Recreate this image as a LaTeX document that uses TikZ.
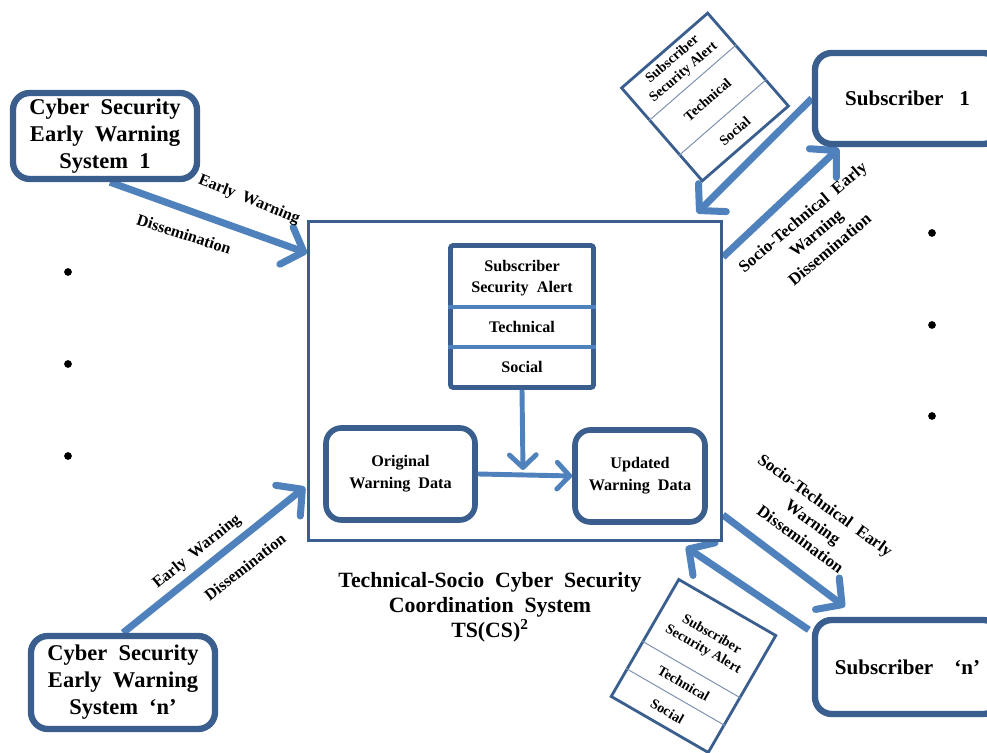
\documentclass[tikz,border=0pt]{standalone}
\usepackage{fontspec}
\setmainfont{Liberation Serif}
\usetikzlibrary{arrows.meta,calc,backgrounds}
\definecolor{frameblue}{RGB}{58,95,143}
\definecolor{flowblue}{RGB}{79,129,189}
\definecolor{ruleblue}{RGB}{125,145,175}
\begin{document}
\begin{tikzpicture}[x=0.025cm,y=0.025cm,
  roundbox/.style={draw=frameblue, line width=4.5pt, rounded corners=12pt, fill=white,
    align=center, inner sep=0pt, font=\bfseries\fontsize{16}{19.2}\selectfont},
  databox/.style={draw=frameblue, line width=4pt, rounded corners=11pt, fill=white,
    align=center, inner sep=0pt, font=\bfseries\fontsize{11.5}{15.5}\selectfont},
  bigflow/.style={draw=flowblue, line width=5pt, -{Straight Barb[length=13pt,width=28pt,round]}},
  innerflow/.style={draw=flowblue, line width=3.5pt, -{Straight Barb[length=9pt,width=19pt,round]}},
  lbl/.style={font=\bfseries\fontsize{11.5}{14}\selectfont, inner sep=0pt, align=center},
  tiltbox/.style={draw=frameblue, line width=2pt, fill=white, inner sep=0pt},
  tilttext/.style={font=\bfseries\fontsize{10}{12}\selectfont, align=center, inner sep=0pt},
  cell/.style={font=\bfseries\fontsize{11.5}{15}\selectfont, align=center, inner sep=0pt},
  dotmark/.style={circle, fill=black, inner sep=0pt, minimum size=5.5pt}]
\useasboundingbox (0,0) rectangle (987,753);

% central coordination system
\node[draw=frameblue, line width=2pt, minimum width=10.325cm, minimum height=7.975cm] (ts) at (515,372) {};

% alert record stack inside the coordination system
\node[draw=frameblue, line width=3.5pt, rounded corners=2pt, minimum width=3.575cm, minimum height=3.55cm] (stack) at (522,436.5) {};
\draw[flowblue, line width=3.5pt] ($(stack.north west)+(0,-64)$) -- ($(stack.north east)+(0,-64)$);
\draw[flowblue, line width=3.5pt] ($(stack.north west)+(0,-104)$) -- ($(stack.north east)+(0,-104)$);
\node[cell] (st1) at ($(stack.north)+(0,-35)$) {Subscriber\\Security\ \ Alert};
\node[cell] (st2) at ($(stack.north)+(0,-83.5)$) {Technical};
\node[cell] (st3) at ($(stack.north)+(0,-123.5)$) {Social};

\node[databox, minimum width=3.725cm, minimum height=2.3cm] (orig) at (400.5,279) {Original\\Warning\ \ Data};
\node[databox, minimum width=3.25cm, minimum height=2.3cm] (upd) at (640,277) {Updated\\Warning\ \ Data};
\coordinate (merge) at (523,283);
\draw[innerflow] (stack.south) -- (merge);
\draw[innerflow] (orig.east) -- (upd.west);

% title of the coordination system
\node[font=\bfseries\fontsize{15.5}{17.8}\selectfont, align=center] (title) at (490,146)
  {Technical-Socio\ \ Cyber\ \ Security\\Coordination\ \ System\\TS(CS)\textsuperscript{2}};

% warning systems and subscribers
\node[roundbox, minimum width=4.6cm, minimum height=2.15cm] (ews1) at (105,617) {Cyber\ \ Security\\Early\ \ Warning\\System\ \ 1};
\node[roundbox, minimum width=4.6cm, minimum height=2.325cm] (ewsn) at (123,70.5) {Cyber\ \ Security\\Early\ \ Warning\\System\ \ ‘n’};
\node[roundbox, font=\bfseries\fontsize{15}{18}\selectfont, minimum width=4.625cm, minimum height=2.275cm] (sub1) at (907.5,654.5) {Subscriber\ \ \ 1};
\node[roundbox, font=\bfseries\fontsize{15}{18}\selectfont, minimum width=4.625cm, minimum height=2.35cm] (subn) at (907.5,86) {Subscriber\ \ \ \ ‘n’};

% dissemination arrows
\begin{scope}[on background layer]
\draw[bigflow] ($(ews1.south)+(5,0)$) -- ($(ts.north west)+(0,-33)$);
\draw[bigflow] (ewsn.north) -- ($(ts.north west)+(-2,-267)$);
\draw[bigflow] (sub1.west) -- ($(ts.north east)+(-26,7)$);
\draw[bigflow] ($(ts.north east)+(0,-37)$) -- ($(sub1.south west)+(27,-1)$);
\draw[bigflow] ($(ts.south east)+(0,27)$) -- ($(subn.north west)+(33,10)$);
\draw[bigflow] ($(subn.north west)+(-3,-13)$) -- ($(ts.south east)+(-37,-5)$);
\end{scope}

% arrow labels
\node[lbl, rotate=-22] (l1a) at (249,553) {Early\ \ Warning};
\node[lbl, rotate=-18] (l1b) at (184,519) {Dissemination};
\node[lbl, rotate=39] (l2a) at (197,201) {Early\ \ Warning};
\node[lbl, rotate=38] (l2b) at (245,186) {Dissemination};
\node[lbl, rotate=40, font=\bfseries\fontsize{12}{15}\selectfont] (l3) at (816,520) {Socio-Technical\ \ Early\\Warning\\Dissemination};
\node[lbl, rotate=-36, font=\bfseries\fontsize{12}{15}\selectfont] (l4) at (813,231) {Socio-Technical\ \ Early\\Warning\\Dissemination};

% alert records travelling between system and subscribers
\node[tiltbox, rotate=41, minimum width=2.85cm, minimum height=3.075cm] (al1) at (705,656) {};
\draw[ruleblue, line width=0.7pt] ($(al1.north west)!0.35!(al1.south west)$) -- ($(al1.north east)!0.35!(al1.south east)$);
\draw[ruleblue, line width=0.7pt] ($(al1.north west)!0.715!(al1.south west)$) -- ($(al1.north east)!0.715!(al1.south east)$);
\node[tilttext, rotate=41] (al1a) at ($(al1.north)!0.175!(al1.south)$) {Subscriber\\Security Alert};
\node[tilttext, rotate=41] (al1b) at ($(al1.north)!0.53!(al1.south)$) {Technical};
\node[tilttext, rotate=41] (al1c) at ($(al1.north)!0.86!(al1.south)$) {Social};

\node[tiltbox, rotate=-30, minimum width=2.8cm, minimum height=3.375cm] (al2) at (693.5,87) {};
\draw[ruleblue, line width=0.7pt] ($(al2.north west)!0.53!(al2.south west)$) -- ($(al2.north east)!0.53!(al2.south east)$);
\draw[ruleblue, line width=0.7pt] ($(al2.north west)!0.76!(al2.south west)$) -- ($(al2.north east)!0.76!(al2.south east)$);
\node[tilttext, rotate=-30] (al2a) at ($(al2.north)!0.3!(al2.south)$) {Subscriber\\Security Alert};
\node[tilttext, rotate=-30] (al2b) at ($(al2.north)!0.645!(al2.south)$) {Technical};
\node[tilttext, rotate=-30] (al2c) at ($(al2.north)!0.88!(al2.south)$) {Social};

% ellipsis dots for further systems and subscribers
\node[dotmark] (dl1) at (68,481) {};
\node[dotmark] (dl2) at (68,389) {};
\node[dotmark] (dl3) at (68,297) {};
\node[dotmark] (dr1) at (932,520) {};
\node[dotmark] (dr2) at (932,428) {};
\node[dotmark] (dr3) at (932,337) {};
\end{tikzpicture}
\end{document}
